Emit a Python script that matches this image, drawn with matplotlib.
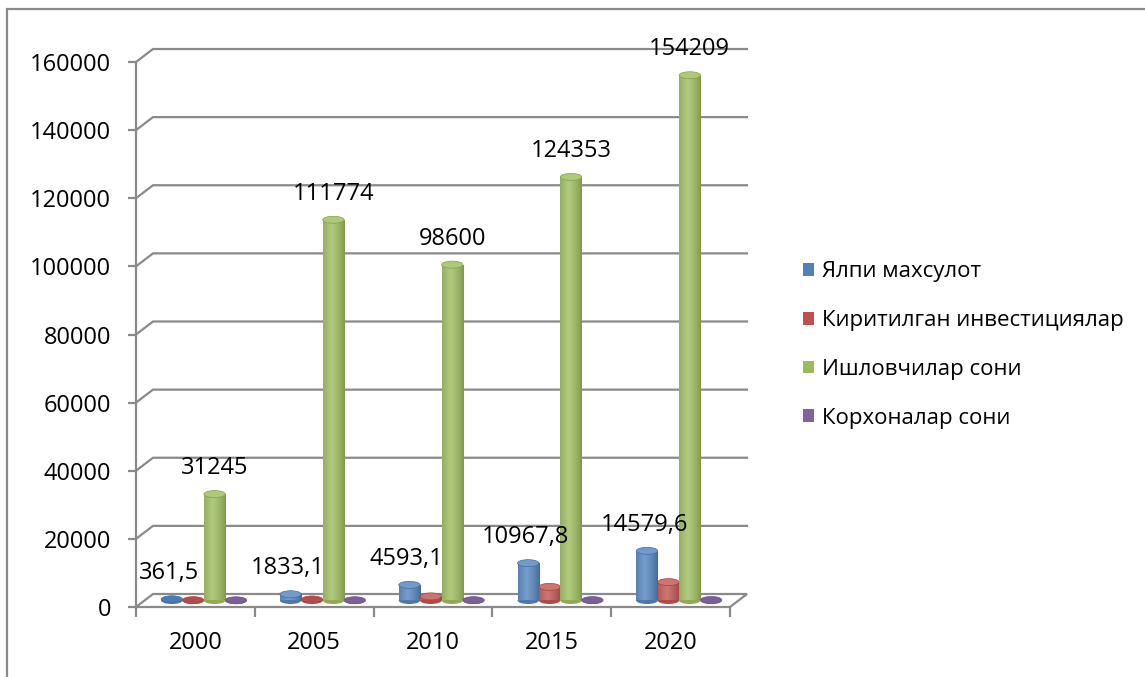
import numpy as np
import matplotlib
matplotlib.use("Agg")
import matplotlib.pyplot as plt
import matplotlib.transforms as mtransforms
from matplotlib.patches import Ellipse, Rectangle
from matplotlib.colors import to_rgb

years = ["2000", "2005", "2010", "2015", "2020"]
gross_output = [361.5, 1833.1, 4593.1, 10967.8, 14579.6]
investments = [100, 300, 1200, 4000, 5400]
employees = [31245, 111774, 98600, 124353, 154209]
enterprises = [60, 80, 100, 120, 150]
gross_labels = ["361,5", "1833,1", "4593,1", "10967,8", "14579,6"]
employee_labels = ["31245", "111774", "98600", "124353", "154209"]
series_names = ["Ялпи махсулот", "Киритилган инвестициялар",
                "Ишловчилар сони", "Корхоналар сони"]
y_ticks = [0, 20000, 40000, 60000, 80000, 100000, 120000, 140000, 160000]

COLORS = ["#4F81BD", "#C0504D", "#9BBB59", "#8064A2"]
GRID = "#8a8a8a"
DX, DY = 17, 13          # depth of the 3d box in pixels
ELL_PX = 7               # height of the cylinder caps in pixels
DPI = 100
FS = 17

plt.rcParams["font.family"] = ["Open Sans", "DejaVu Sans"]

fig = plt.figure(figsize=(11.45, 6.77), dpi=DPI)
ax = fig.add_axes([136 / 1145, 70 / 677, 594 / 1145, 545 / 677])
ymax = y_ticks[-1]
ax.set_xlim(-0.5, len(years) - 0.5)
ax.set_ylim(0, ymax)

half = mtransforms.offset_copy(ax.transData, fig=fig, x=DX / 2, y=DY / 2, units="dots")
ell_h = ELL_PX * ymax / 545


def shade(color, n=80):
    base = np.array(to_rgb(color))
    t = np.linspace(0, 1, n)
    f = np.clip(1 - np.abs(t - 0.4) / 0.6, 0, 1) ** 0.7
    dark = base * 0.8
    light = base + (1 - base) * 0.22
    return (dark[None, :] + (light - dark)[None, :] * f[:, None])[None, :, :]


# 3d box: back wall gridlines, left diagonals, floor
def P(x, y, d):
    px = ax.transData.transform((x, y))
    return px[0] + d * DX, px[1] + d * DY

ident = mtransforms.IdentityTransform()
x0, x1 = ax.get_xlim()
for t in y_ticks:
    a, b, c = P(x0, t, 0), P(x0, t, 1), P(x1, t, 1)
    xs, ys = [a[0], b[0], c[0]], [a[1], b[1], c[1]]
    if t == 0:
        d = P(x1, 0, 0)
        xs.append(d[0]); ys.append(d[1])
    ax.plot(xs, ys, color=GRID, lw=1.6, transform=ident, clip_on=False,
            zorder=0.5, solid_joinstyle="miter")

# cylinders
width = 0.18
series = [gross_output, investments, employees, enterprises]
offsets = (np.arange(4) - 1.5) * width
z = 2
for i in range(len(years)):
    for s, vals in enumerate(series):
        xc = i + offsets[s]
        v = vals[i]
        col = COLORS[s]
        base = np.array(to_rgb(col))
        grad = shade(col)
        bar = ax.bar(xc, v, width, color=col, transform=half, zorder=z + 0.1,
                     linewidth=0)[0]
        im = ax.imshow(grad, extent=(xc - width / 2, xc + width / 2, 0, v),
                       transform=half, aspect="auto", interpolation="bilinear",
                       zorder=z + 0.2)
        im.set_clip_path(bar)
        ax.add_patch(Ellipse((xc, 0), width, ell_h, transform=half,
                             facecolor=base * 0.92, edgecolor="none",
                             zorder=z + 0.15))
        top_c = base + (1 - base) * 0.2 if v > 500 else base * 0.95
        ax.add_patch(Ellipse((xc, v), width, ell_h, transform=half,
                             facecolor=top_c, edgecolor=base * 0.85,
                             lw=0.5, zorder=z + 0.3))
        z += 1

ax.set_xlim(-0.5, len(years) - 0.5)
ax.set_ylim(0, ymax)

# data labels
for i in range(len(years)):
    ax.annotate(gross_labels[i], (i + offsets[0], gross_output[i]), xycoords=half,
                xytext=(-3, 26), textcoords="offset pixels", ha="center",
                va="center", fontsize=FS, zorder=100)
    ax.annotate(employee_labels[i], (i + offsets[2], employees[i]), xycoords=half,
                xytext=(0, 26), textcoords="offset pixels", ha="center",
                va="center", fontsize=FS, zorder=100)

# axes styling
for side in ["top", "right"]:
    ax.spines[side].set_visible(False)
for side in ["left", "bottom"]:
    ax.spines[side].set_color(GRID)
    ax.spines[side].set_linewidth(1.6)
ax.set_yticks(y_ticks)
ax.set_yticklabels([str(t) for t in y_ticks])
ax.set_xticks(range(len(years)))
ax.set_xticklabels(years)
ax.set_xticks(np.arange(-0.5, len(years)), minor=True)
ax.tick_params(axis="y", length=6, width=1.6, color=GRID, pad=12, labelsize=FS)
ax.tick_params(axis="x", which="major", length=0, pad=17, labelsize=FS)
ax.tick_params(axis="x", which="minor", length=7, width=1.6, color=GRID)
ax.patch.set_visible(False)

handles = [Rectangle((0, 0), 1, 1, facecolor=c) for c in COLORS]
ax.legend(handles, series_names, loc="center left",
          bbox_to_anchor=(803 / 1145, 1 - 345 / 677), bbox_transform=fig.transFigure,
          frameon=False, fontsize=16, handlelength=0.5, handleheight=0.5,
          handletextpad=0.35, labelspacing=1.25, borderaxespad=0, borderpad=0)

fig.add_artist(Rectangle((7 / 1145, -0.05), 1.2, 1 - 9 / 677 + 0.05,
                         transform=fig.transFigure, fill=False,
                         edgecolor=GRID, lw=1.6))

fig.savefig("out.png", dpi=DPI)
